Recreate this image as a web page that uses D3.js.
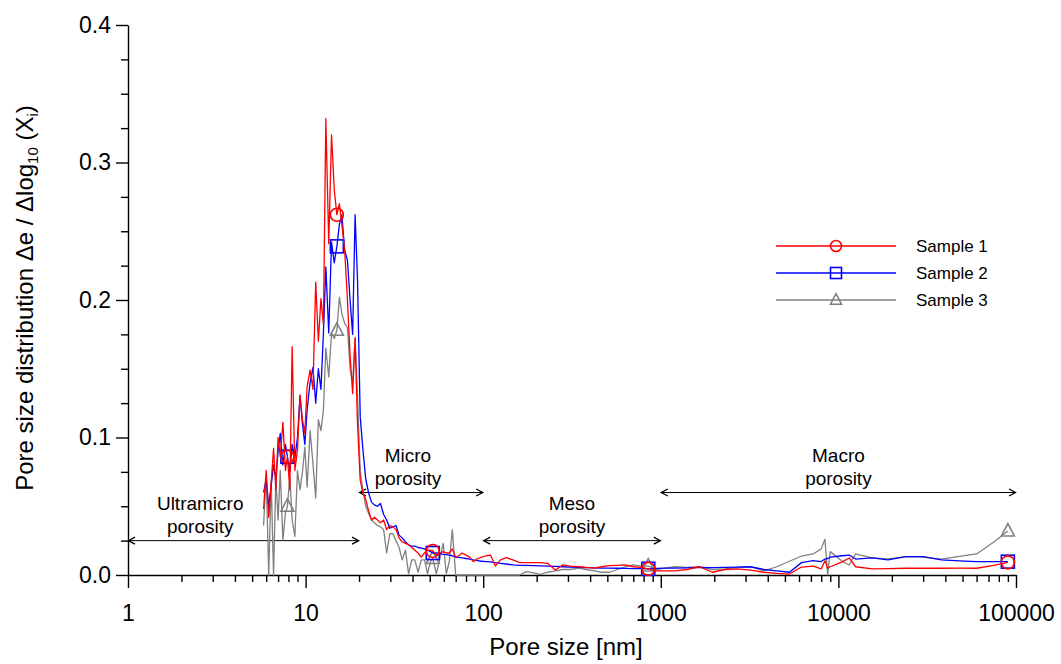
<!DOCTYPE html>
<html><head><meta charset="utf-8">
<script src="https://cdn.jsdelivr.net/npm/d3@7"></script>
<style>
body{margin:0;background:#fff}
svg{display:block}
text{font-family:"Liberation Sans",Arial,Helvetica,sans-serif;fill:#000}
</style>
</head><body>
<svg id="chart" width="1061" height="664"></svg>
<script>
// ---------------- data ----------------
const poreSize = [5.8,6.0,6.2,6.4,6.6,6.8,7.0,7.2,7.45,7.7,
  7.9,8.15,8.4,8.7,9.0,9.3,9.6,9.9,10.2,10.6,
  11.0,11.4,11.8,12.2,12.6,13.0,13.5,14.0,14.5,15.0,
  15.5,16.0,16.6,17.2,17.8,18.4,19.0,19.6,20.3,
  21.0,21.8,22.6,23.5,24.4,25.4,26.4,27.5,28.6,29.8,
  31.0,32.3,33.6,35.0,36.5,38.0,39.6,41.2,43.0,44.8,
  46.7,48.6,50.5,52.0,54.5,57.0,59.5,62.0,64.5,67.0,
  70,73,76,80,84,88,93,98,
  104,110,117,125,135,147,160,175,192,210,
  230,255,280,310,345,380,420,465,515,570,
  630,700,770,850,950,
  1050,1200,1400,1650,1950,2300,2700,3200,3800,4500,
  5300,6200,7200,8000,8400,8700,9000,10500,11500,12500,
  15500,19000,24000,30000,38000,48000,60000,75000,90000];

const sample1 = [0.048,0.076,0.042,0.067,0.092,0.062,0.100,0.086,0.111,0.076,
  0.086,0.062,0.166,0.076,0.091,0.131,0.113,0.103,0.137,0.149,
  0.135,0.213,0.170,0.201,0.182,0.332,0.241,0.320,0.280,0.262,
  0.270,0.255,0.236,0.200,0.160,0.132,0.172,0.110,0.069,
  0.060,0.055,0.047,0.040,0.042,0.040,0.038,0.040,0.033,0.036,
  0.035,0.033,0.027,0.024,0.023,0.022,0.020,0.018,0.016,0.013,
  0.016,0.018,0.018,0.0175,0.0145,0.016,0.017,0.016,0.016,0.019,
  0.013,0.014,0.016,0.0145,0.013,0.0097,0.012,0.013,
  0.014,0.0145,0.0065,0.011,0.0126,0.011,0.009,0.009,0.009,0.009,
  0.0085,0.0036,0.0073,0.0065,0.006,0.0055,0.005,0.006,0.0068,0.007,
  0.0073,0.006,0.0055,0.0045,0.003,
  0.003,0.003,0.004,0.006,0.002,0.004,0.0044,0.0036,0.002,0.0012,
  0.0007,0.0058,0.0065,0.0044,0.0104,0.0049,0.006,0.0095,0.0124,0.006,
  0.0044,0.0047,0.0049,0.0049,0.0049,0.005,0.0049,0.007,0.0092];

const sample2 = [0.060,0.070,0.050,0.065,0.080,0.070,0.090,0.103,0.080,0.095,
  0.086,0.075,0.095,0.085,0.100,0.130,0.110,0.095,0.120,0.140,
  0.151,0.125,0.150,0.135,0.176,0.224,0.176,0.242,0.227,0.239,
  0.255,0.262,0.236,0.229,0.200,0.175,0.262,0.215,0.115,
  0.092,0.070,0.060,0.053,0.051,0.050,0.052,0.044,0.040,0.034,
  0.035,0.036,0.029,0.027,0.024,0.022,0.021,0.021,0.020,0.0196,
  0.019,0.018,0.017,0.016,0.016,0.0155,0.015,0.0148,0.0145,0.014,
  0.013,0.0128,0.0125,0.012,0.0115,0.011,0.0105,0.010,
  0.0098,0.0095,0.009,0.0085,0.008,0.0073,0.007,0.007,0.0068,0.0066,
  0.0065,0.0062,0.006,0.0058,0.0055,0.0053,0.0052,0.005,0.005,0.0049,
  0.0048,0.0047,0.0046,0.0045,0.0048,
  0.005,0.005,0.0052,0.0055,0.0053,0.0055,0.0058,0.006,0.004,0.003,
  0.002,0.009,0.0104,0.0098,0.0116,0.012,0.013,0.014,0.0145,0.0116,
  0.0124,0.011,0.0133,0.0133,0.011,0.0102,0.0097,0.0097,0.0097];

const sample3 = [0.036,0.073,0.0,0.069,0.0,0.071,0.040,0.076,0.0255,0.045,
  0.050,0.071,0.040,0.028,0.076,0.062,0.075,0.093,0.064,0.105,
  0.081,0.056,0.113,0.105,0.120,0.165,0.144,0.176,0.172,0.178,
  0.202,0.190,0.183,0.180,0.150,0.140,0.173,0.130,0.075,
  0.062,0.050,0.045,0.040,0.038,0.036,0.035,0.033,0.016,0.030,
  0.030,0.025,0.020,0.011,0.018,0.001,0.011,0.011,0.002,0.011,
  0.011,0.001,0.010,0.012,0.001,0.012,0.023,0.001,0.010,0.033,
  0,0,0,0,0,0,0,0,
  0,0,0,0,0,0,0,0.0024,0.0015,0.0005,
  0.002,0.003,0.004,0.004,0.005,0.004,0.003,0.002,0.002,0.004,
  0.006,0.0073,0.0065,0.0065,0.004,
  0.005,0.006,0.0055,0.006,0.004,0.0045,0.0056,0.006,0.003,0.006,
  0.010,0.0138,0.0153,0.019,0.026,0.0,0.017,0.010,0.0073,0.0153,
  0.0124,0.0118,0.0133,0.013,0.0116,0.0135,0.0153,0.024,0.032];

const markerSizes = [7.9, 15.0, 52.0, 850, 90000];
const seriesNames = ["Sample 1", "Sample 2", "Sample 3"];
const xTicks = [1, 10, 100, 1000, 10000, 100000];
const yTicks = [0, 0.1, 0.2, 0.3, 0.4];

const regionNames = ["Ultramicro", "Micro", "Meso", "Macro"];
const regionFrom = [1, 20, 100, 1000];
const regionTo = [20, 100, 1000, 100000];
const regionLevel = [0.025, 0.06, 0.025, 0.06];
const regionLabelAt = [2.55, 37.7, 316, 10000];

// ---------------- drawing ----------------
const svg = d3.select("#chart");
const x = d3.scaleLog().domain([1, 100000]).range([128, 1016]);
const y = d3.scaleLinear().domain([0, 0.4]).range([575, 25]);

const colors = ["#ff0000", "#0000ff", "#808080"];
const shapes = ["circle", "square", "triangle"];
const seriesData = [sample1, sample2, sample3];

// axes
const minorX = x.ticks().filter(v => !xTicks.includes(v));
const minorY = d3.range(0, 0.4001, 0.025).filter(v => !yTicks.some(t => Math.abs(t - v) < 1e-9));

function styleAxis(g) {
  g.selectAll("path,line").attr("stroke", "#000").attr("stroke-width", 1.4);
  g.selectAll("text").style("font-size", "23px").attr("fill", "#000");
}

svg.append("g").attr("transform", "translate(0,575)")
  .call(d3.axisBottom(x).tickValues(minorX).tickSize(7).tickSizeOuter(0).tickFormat(""))
  .call(g => g.select(".domain").remove()).call(styleAxis);
svg.append("g").attr("transform", "translate(0,575)")
  .call(d3.axisBottom(x).tickValues(xTicks).tickSize(13).tickSizeOuter(0).tickPadding(17).tickFormat(d3.format("d")))
  .call(styleAxis);

svg.append("g").attr("transform", "translate(128,0)")
  .call(d3.axisLeft(y).tickValues(minorY).tickSize(7).tickSizeOuter(0).tickFormat(""))
  .call(g => g.select(".domain").remove()).call(styleAxis);
svg.append("g").attr("transform", "translate(128,0)")
  .call(d3.axisLeft(y).tickValues(yTicks).tickSize(12).tickSizeOuter(0).tickPadding(5).tickFormat(d3.format(".1f")))
  .call(styleAxis);

// axis titles
svg.append("text").attr("x", 566).attr("y", 655).attr("text-anchor", "middle")
  .style("font-size", "24px").text("Pore size [nm]");
const yt = svg.append("text").attr("transform", "translate(33,298) rotate(-90)")
  .attr("text-anchor", "middle").style("font-size", "24px");
yt.append("tspan").text("Pore size distribution \u0394e / \u0394log");
yt.append("tspan").attr("dy", 5).style("font-size", "15px").text("10");
yt.append("tspan").attr("dy", -5).text(" (X");
yt.append("tspan").attr("dy", 5).style("font-size", "15px").text("i");
yt.append("tspan").attr("dy", -5).text(")");

// region annotations
const ann = svg.append("g");
regionNames.forEach((name, i) => {
  const x0 = x(regionFrom[i]), x1 = x(regionTo[i]), yy = y(regionLevel[i]);
  const cx = x(regionLabelAt[i]);
  ann.append("line").attr("x1", x0).attr("x2", x1).attr("y1", yy).attr("y2", yy)
    .attr("stroke", "#000").attr("stroke-width", 1);
  ann.append("path").attr("d", `M${x0+7},${yy-3.5}L${x0+0.5},${yy}L${x0+7},${yy+3.5}`)
    .attr("fill", "none").attr("stroke", "#000").attr("stroke-width", 1.3);
  ann.append("path").attr("d", `M${x1-7},${yy-3.5}L${x1-0.5},${yy}L${x1-7},${yy+3.5}`)
    .attr("fill", "none").attr("stroke", "#000").attr("stroke-width", 1.3);
  ann.append("text").attr("x", cx).attr("y", yy - 31).attr("text-anchor", "middle")
    .style("font-size", "19px").text(name);
  ann.append("text").attr("x", cx).attr("y", yy - 8).attr("text-anchor", "middle")
    .style("font-size", "19px").text("porosity");
});

// series lines (gray at back, red on top)
function drawMarker(g, shape, cx, cy, color, s) {
  if (shape === "circle") {
    g.append("circle").attr("cx", cx).attr("cy", cy).attr("r", s)
      .attr("fill", "none").attr("stroke", color).attr("stroke-width", 1.6);
  } else if (shape === "square") {
    g.append("rect").attr("x", cx - s).attr("y", cy - s).attr("width", 2 * s).attr("height", 2 * s)
      .attr("fill", "none").attr("stroke", color).attr("stroke-width", 1.6);
  } else {
    const h = s * 1.9;
    g.append("path").attr("d", `M${cx},${cy - h * 0.6}L${cx + s},${cy + h * 0.4}L${cx - s},${cy + h * 0.4}Z`)
      .attr("fill", "none").attr("stroke", color).attr("stroke-width", 1.6);
  }
}

const line = d3.line().x(d => x(d[0])).y(d => y(d[1]));
[2, 1, 0].forEach(k => {
  const pts = poreSize.map((p, i) => [p, seriesData[k][i]]);
  const g = svg.append("g");
  g.append("path").datum(pts).attr("d", line).attr("fill", "none")
    .attr("stroke", colors[k]).attr("stroke-width", 1.3).attr("stroke-linejoin", "round");
  pts.filter(d => markerSizes.includes(d[0])).forEach(d => {
    drawMarker(g, shapes[k], x(d[0]), y(d[1]), colors[k], 6.5);
  });
});

// legend
const leg = svg.append("g");
seriesNames.forEach((name, k) => {
  const yy = 246 + k * 27;
  leg.append("line").attr("x1", 776).attr("x2", 896).attr("y1", yy).attr("y2", yy)
    .attr("stroke", colors[k]).attr("stroke-width", 1.3);
  drawMarker(leg, shapes[k], 836, yy, colors[k], 5.5);
  leg.append("text").attr("x", 916).attr("y", yy).attr("dy", "0.36em")
    .style("font-size", "17px").text(name);
});
</script>
</body></html>
